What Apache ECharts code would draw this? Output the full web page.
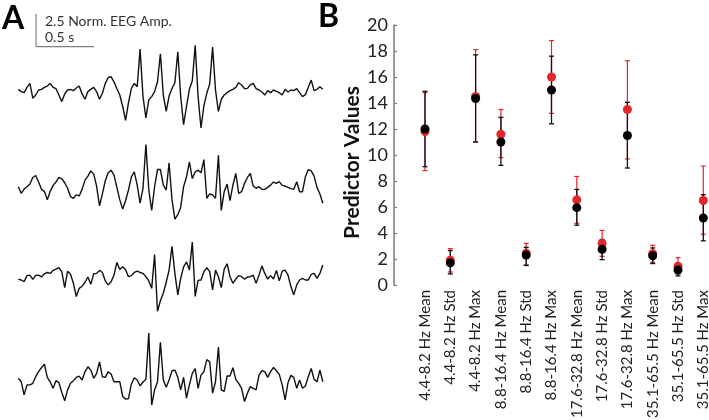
<!DOCTYPE html>
<html>
<head>
<meta charset="utf-8">
<script src="https://cdn.jsdelivr.net/npm/echarts@6/dist/echarts.min.js"></script>
<style>html,body{margin:0;padding:0;background:#fff}#c{width:709px;height:420px}</style>
</head>
<body>
<div id="c"></div>
<script>
// ---- Panel A: EEG traces (normalized amplitude), sampled every dt seconds ----
const dt = 0.025;
const trace1 = [0.05,-0.12,-0.2,0.2,0.5,-0.62,-0.38,0,0.05,0.2, 0.3,0.5,0.2,0.1,-0.38,-0.88,-0.3,0,0.05,-0.05, 0.15,0.3,-0.3,-0.7,-0.12,0.05,0.2,-0.12,-0.7,-0.25, 0.5,0.95,1.0,0.62,0.1,-0.38,-1.25,-2.3,-0.95,0.12, 0.5,0.25,3.1,-0.5,-2.12,-0.75,-0.5,-0.12,0.62,2.75, -0.38,-1.62,-0.45,0.12,0.55,2.9,-0.5,-2.62,-1.25,0.05, 0.7,3.38,-0.5,-2.88,-1.2,-0.25,0.45,3.25,0,-1.62, -0.7,-0.38,-0.2,-0.05,0.05,0.2,0.55,0.38,0.1,0.12, 0.38,0.5,0.1,0,-0.15,-0.38,-0.05,-0.2,0,-0.1, -0.2,-0.38,0.05,-0.15,0,-0.05,0.1,-0.2,-0.5,-0.35, 0.2,0.75,-0.05,0.05,0.25,0.05];
const trace2 = [0,-0.5,-0.18,0,0.2,0.7,0.85,0.35,-0.2,-0.35, -1.0,-0.35,0.1,0.35,0.7,0.6,0.3,-0.12,-0.75,-0.88, -0.62,-0.7,-0.2,0.5,0.8,1.2,0.95,0.05,-1.45,-0.55, 0.45,1.05,1.25,0.88,-0.05,-1.0,-1.7,-1.05,-0.25,0.75, 1.12,0.12,-1.25,-0.12,3.2,-0.25,-1.8,0,1.3,1.3, 0.12,-0.25,1.8,-1.0,-2.45,-2.12,-1.55,0,0.75,1.88, 0.62,1.12,1.25,1.05,2.05,-0.88,-0.55,-0.62,-0.88,2.38, -1.8,-0.38,0.2,-1.05,0.12,1.0,-0.5,-0.38,0.25,0.7, 1.0,0.05,-0.12,0,-0.2,-0.2,-0.05,0.12,0.35,0.25, 0.38,0.1,0.05,-0.05,-0.15,-0.2,0.38,-0.38,-0.38,0.75, 1.3,1.2,0.8,-0.05,-0.55,-1.25];
const trace3 = [-0.18,-0.25,-0.38,0.08,0.12,-0.2,0.1,0.12,-0.02,0.22, 0.32,0.25,0.48,0.58,0.68,0.38,-0.82,0.42,0.18,-0.5, -1.5,-0.88,-0.72,-0.42,-0.02,-0.58,0.22,0.25,0.48,0.32, -0.32,-0.62,-0.38,0.12,1.08,0.55,0.75,0.52,0,0.08, 0.32,0.42,0.32,0.25,0,-0.32,-0.88,1.68,-2.62,-1.82, -1.25,-0.42,0.5,2.3,0.25,-1.38,-0.12,0.75,1.12,0.5, 2.62,-1.5,-0.28,-0.25,0.38,0.68,0.38,-1.0,0.5,0, -0.82,0.58,0.98,0,-0.5,-0.18,0.08,0,-0.18,-0.02, 0,0.12,-0.5,0.12,0.82,0.25,-0.18,0.08,-0.18,0.48, -0.32,0.42,0.5,0.12,-0.75,-1.38,-0.62,-0.25,-0.12,-0.25, -0.25,0.18,0.25,-0.12,0.25,0.88];
const trace4 = [0.38,0.12,-0.88,-0.12,-0.12,0,0.5,0.88,1.18,1.45, 0.45,0.1,-0.38,0.2,0.05,-0.7,-1.32,-0.5,0,0.2, 0.45,0.55,0.25,0.88,1.25,1.0,0.38,0.75,1.62,0.5, 0.45,0.88,0.7,0.12,0.12,0.12,-1.0,-1.2,-1.15,-0.05, 0.42,0.25,-0.2,0.1,0.3,3.8,-1.65,-0.5,0.12,3.1, 0.25,-0.3,0.25,0.95,1.0,0.45,-0.5,0.45,-1.12,-0.12, 0.75,1.12,-0.38,0.62,0.88,1.8,1.62,-0.75,0.12,2.75, -0.5,-0.62,0.55,0.55,1.18,0.3,0,-0.38,-1.38,-0.75, -0.25,-0.38,-0.5,0.62,0.95,0.88,0.45,0.88,1.2,0.95, 0.68,-0.12,-1.25,0.05,0.6,0.45,-0.38,0.25,-0.38,-0.2, 0.5,1.12,0.3,0.12,1.0,0.12];
const scaleAmp = 2.5;      // Norm. EEG Amp.
const scaleTime = 0.5;     // s
const scaleAnchor = [0.153, 3.28]; // [time, amp] corner of the scale bar (trace 1 axes)

// ---- Panel B: predictor values ----
const categories = ['4.4-8.2 Hz Mean','4.4-8.2 Hz Std','4.4-8.2 Hz Max','8.8-16.4 Hz Mean','8.8-16.4 Hz Std','8.8-16.4 Hz Max','17.6-32.8 Hz Mean','17.6-32.8 Hz Std','17.6-32.8 Hz Max','35.1-65.5 Hz Mean','35.1-65.5 Hz Std','35.1-65.5 Hz Max'];
const redMean  = [11.8, 1.9, 14.5, 11.6, 2.45, 16.0, 6.55, 3.2, 13.5, 2.4, 1.45, 6.5];
const redLow   = [8.8, 1.0, 11.0, 9.8, 1.55, 13.2, 4.75, 2.2, 9.7, 1.75, 0.85, 3.9];
const redHigh  = [14.8, 2.8, 18.1, 13.5, 3.2, 18.8, 8.35, 4.2, 17.25, 3.05, 2.1, 9.15];
const blackMean = [12.0, 1.7, 14.35, 11.0, 2.3, 15.0, 5.95, 2.75, 11.5, 2.25, 1.15, 5.15];
const blackLow  = [9.1, 0.85, 11.0, 9.2, 1.5, 12.4, 4.6, 1.95, 9.0, 1.65, 0.7, 3.4];
const blackHigh = [14.9, 2.65, 17.7, 12.9, 2.9, 17.6, 7.35, 3.5, 14.05, 2.85, 1.55, 6.95];
const yTicks = {min: 0, max: 20, interval: 2};

const FONT = 'Lato, "Open Sans", sans-serif';
const RED = '#e3262b';
const pxPerAmp = 13.2;
const traceBase = [90, 186.7, 276.7, 383.3];
const traces = [trace1, trace2, trace3, trace4];

const grids = [], xAxes = [], yAxes = [], series = [];
traces.forEach((tr, k) => {
  const yMin = -4, yMax = k === 0 ? 6 : 4;
  grids.push({left: 18.3, width: 304.5, top: traceBase[k] - yMax * pxPerAmp, height: (yMax - yMin) * pxPerAmp, outerBoundsMode: 'none', containLabel: false});
  xAxes.push({type: 'value', gridIndex: k, min: 0, max: (trace1.length - 1) * dt, show: false});
  yAxes.push({type: 'value', gridIndex: k, min: yMin, max: yMax, show: false});
  series.push({
    type: 'line', xAxisIndex: k, yAxisIndex: k, showSymbol: false, animation: false,
    lineStyle: {color: '#111', width: 1.4}, silent: true,
    data: tr.map((v, i) => [i * dt, v])
  });
});
// scale bar (in trace 1 axes)
series.push({
  type: 'line', xAxisIndex: 0, yAxisIndex: 0, showSymbol: false, animation: false, silent: true,
  lineStyle: {color: '#808080', width: 1.2},
  data: [[scaleAnchor[0], scaleAnchor[1] + scaleAmp], [scaleAnchor[0], scaleAnchor[1]], [scaleAnchor[0] + scaleTime, scaleAnchor[1]]]
});

// panel B grid
grids.push({left: 412.35, width: 303.6, top: 25, height: 260, outerBoundsMode: 'none', containLabel: false});
xAxes.push({
  type: 'category', gridIndex: 4, data: categories, boundaryGap: true,
  axisLine: {show: false}, axisTick: {show: false},
  axisLabel: {rotate: 90, interval: 0, margin: 5, fontSize: 15, fontFamily: FONT, color: '#222'}
});
yAxes.push({
  type: 'value', gridIndex: 4, min: yTicks.min, max: yTicks.max, interval: yTicks.interval, offset: 18.35,
  axisLine: {show: true, lineStyle: {color: '#7a7a7a', width: 1.5}},
  axisTick: {show: true, inside: true, length: 3, lineStyle: {color: '#7a7a7a', width: 1.2}},
  axisLabel: {fontSize: 18, fontFamily: FONT, color: '#222', margin: 6},
  splitLine: {show: false}
});

function errBar(color, width) {
  return function (params, api) {
    const x = api.value(0);
    const lo = api.coord([x, api.value(1)]);
    const hi = api.coord([x, api.value(2)]);
    const cw = 2.5;
    const st = {stroke: color, lineWidth: width};
    return {type: 'group', children: [
      {type: 'line', shape: {x1: lo[0], y1: lo[1], x2: hi[0], y2: hi[1]}, style: st},
      {type: 'line', shape: {x1: lo[0] - cw, y1: lo[1], x2: lo[0] + cw, y2: lo[1]}, style: st},
      {type: 'line', shape: {x1: hi[0] - cw, y1: hi[1], x2: hi[0] + cw, y2: hi[1]}, style: st}
    ]};
  };
}
series.push({
  type: 'custom', xAxisIndex: 4, yAxisIndex: 4, z: 1, animation: false, silent: true,
  renderItem: errBar(RED, 1.2), encode: {x: 0, y: [1, 2]},
  data: categories.map((c, i) => [i, redLow[i], redHigh[i]])
});
series.push({
  type: 'custom', xAxisIndex: 4, yAxisIndex: 4, z: 2, animation: false, silent: true,
  renderItem: errBar('#111', 1.3), encode: {x: 0, y: [1, 2]},
  data: categories.map((c, i) => [i, blackLow[i], blackHigh[i]])
});
series.push({
  type: 'scatter', xAxisIndex: 4, yAxisIndex: 4, z: 3, symbolSize: 9, animation: false, silent: true,
  itemStyle: {color: RED, opacity: 1}, data: redMean.map((v, i) => [i, v])
});
series.push({
  type: 'scatter', xAxisIndex: 4, yAxisIndex: 4, z: 4, symbolSize: 9, animation: false, silent: true,
  itemStyle: {color: '#000', opacity: 1}, data: blackMean.map((v, i) => [i, v])
});

const chart = echarts.init(document.getElementById('c'), null, {renderer: 'canvas'});
chart.setOption({
  animation: false,
  backgroundColor: '#fff',
  grid: grids, xAxis: xAxes, yAxis: yAxes, series: series,
  graphic: [
    {type: 'text', x: 2, y: 18.5, style: {text: 'A', font: 'bold 32px ' + FONT, fill: '#000', align: 'left', verticalAlign: 'middle'}},
    {type: 'text', x: 318, y: 16.5, style: {text: 'B', font: 'bold 32px ' + FONT, fill: '#000', align: 'left', verticalAlign: 'middle'}},
    {type: 'text', x: 45, y: 21.7, style: {text: '2.5 Norm. EEG Amp.', font: '14px ' + FONT, fill: '#333', align: 'left', verticalAlign: 'middle'}},
    {type: 'text', x: 45, y: 37.8, style: {text: '0.5 s', font: '14px ' + FONT, fill: '#333', align: 'left', verticalAlign: 'middle'}},
    {type: 'text', x: 352, y: 162.5, rotation: Math.PI / 2, style: {text: 'Predictor Values', font: 'bold 21px ' + FONT, fill: '#111', align: 'center', verticalAlign: 'middle'}}
  ]
});
</script>
</body>
</html>
